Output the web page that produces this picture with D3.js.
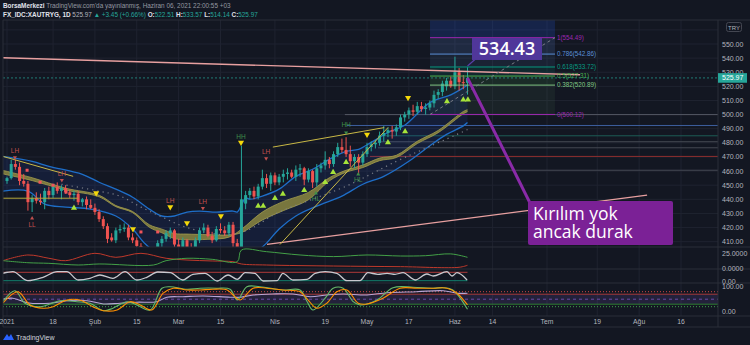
<!DOCTYPE html>
<html><head><meta charset="utf-8">
<script src="https://cdn.jsdelivr.net/npm/d3@7"></script>
<style>html,body{margin:0;padding:0;background:#131722;}svg{display:block}</style>
</head><body><svg id="c" width="750" height="345"></svg>
<script>
// ---------- DATA ----------
const opens  = [453,455,465,463,453,451,438,441,439,438,446,443,449,446,448,445,443,444,438,440,436,434,431,426,421,413,411,418,419,420,413,411,407,402,398,402,403,409,412,416,418,408,405,411,406,404,411,418,420,414,411,419,418,416,422,409,406,437,443,446,442,449,455,451,457,452,456,458,459,456,461,462,454,460,452,462,464,468,465,472,477,475,472,467,470,466,472,477,479,480,485,487,489,488,491,498,500,503,502,506,504,505,508,514,516,520,524,520,530,523,522.51];
const highs  = [456,468,468,466,458,453,443,445,444,448,449,451,452,450,450,447,446,446,441,442,440,437,433,428,423,416,420,422,423,422,416,413,409,404,404,405,411,414,418,420,419,412,413,412,409,413,420,423,422,417,421,423,421,424,424,412,478,446,448,449,451,461,458,459,459,458,461,462,461,464,465,463,462,461,465,466,474,470,474,480,483,484,478,472,472,474,480,481,482,488,492,491,492,493,500,502,505,507,509,509,508,510,517,518,524,526,527,541,533,528,533.57];
const lows   = [451,454,461,450,449,432,431,437,436,433,440,441,444,440,444,441,439,436,435,433,433,429,424,419,409,410,409,416,417,411,409,404,400,396,396,399,402,405,410,412,405,403,404,403,402,403,409,416,413,409,410,416,414,414,406,404,405,433,440,440,440,447,448,446,450,450,452,454,455,453,456,450,452,448,449,459,461,462,463,470,473,470,463,462,458,464,470,474,476,478,481,484,483,485,489,495,497,499,500,502,500,503,505,511,513,517,519,518,517,518,514.14];
const closes = [455,465,463,453,451,438,441,439,438,446,443,449,446,448,445,443,444,438,440,436,434,431,426,421,412,411,418,419,420,413,411,407,402,398,402,403,409,412,416,418,408,405,411,406,404,411,418,420,414,411,419,418,416,422,409,406,440,443,446,442,449,455,451,457,452,456,458,459,456,461,462,454,460,452,462,464,468,465,472,477,475,472,467,470,466,472,477,479,480,485,487,489,488,491,498,500,503,502,506,504,505,508,514,516,522,524,520,530,523,522.5,525.97];

const tickBars   = [0,11,21,31,41,51,64,76,86,96,107,116,129,141,151,161];
const tickLabels = ["2021","18","Şub","15","Mar","15","Nis","19","May","17","Haz","14","Tem","19","Ağu","16"];
const priceTicks = [410,420,430,440,450,460,470,480,490,500,510,520,530,540,550,560];

// overlays [barIndex, price]
const bandUpper = [[-1,470.4],[6,466.9],[10,463.4],[18,457.7],[22,452.1],[26,447.2],[30,441.5],[34,433.1],[37,428.2],[40,428.2],[43,431],[46,431.7],[50,431],[54,431.7],[55,431],[56,436],[57,441],[58,440.1],[61,442.3],[65,447.2],[69,456.3],[73,461.3],[77,468.3],[81,474],[84,475.4],[87,480.3],[91,487.3],[95,492.5],[101,508.5],[106,514],[109,519],[110,521]];
const bandLower = [[-1,445.8],[5,445.8],[9,436.6],[14,434.5],[20,433.1],[26,428.2],[30,419],[33,408.5],[36,402],[42,397],[50,396],[56,398],[60,404],[62,409],[65,419],[69,428.2],[74,435.2],[80,442.3],[85,450.7],[90,456.3],[96,467],[101,478],[105,486],[109,492],[110,494.4]];
const ribbonFast = [[-1,458],[6,453.3],[14,446.6],[22,441.8],[26,434.8],[30,430.6],[34,420.2],[37,416.3],[40,412.2],[43,411.4],[48,411.7],[53,413.2],[56,418.8],[61,431],[66,438.5],[72,444.9],[77,455.3],[81,460.6],[85,464.3],[89,469.2],[93,471.2],[98,481.1],[103,488.8],[109,502.2],[110,503.5]];
const ribbonSlow = [[-1,460.5],[6,455.3],[14,447.9],[22,442.9],[26,435.6],[30,431.4],[34,422],[37,418.9],[40,415.8],[43,415.4],[48,415],[53,414.8],[56,416.4],[61,425.4],[66,432],[72,439.7],[77,453.1],[81,459.2],[85,462.5],[89,467.4],[93,469.6],[98,479.5],[103,487.2],[109,500.6],[110,502.1]];
const dotMA = [[13,450.7],[22,445.8],[27,442.3],[32,434.5],[37,427.5],[42,421],[47,417],[52,415],[57,417.6],[65,431],[73,440.1],[81,449.3],[93,466.9],[101,477.5],[109,488],[110,489.5]];

// drawn trend lines [[i0,p0],[i1,p1]]
const trendLines = [
  {pts:[[-0.96,540.3],[136.9,528.2]], color:"#e8a0a0", w:1.4},
  {pts:[[62.1,408.1],[152.9,443]], color:"#e8a0a0", w:1.2},
  {pts:[[-0.96,470.4],[15.8,456.3]], color:"#c8b845", w:1},
  {pts:[[-0.96,440.8],[17,440.8]], color:"#b4a83c", w:1},
  {pts:[[63.5,477],[90.1,490.8]], color:"#c8b845", w:1},
  {pts:[[65.2,408],[91,490.8]], color:"#c8b845", w:1}
];
// horizontal levels extending to the right
const hLevels = [500, 492.3, 485, 480.8, 476.5, 470.4, 460.6];
const hStart  = [80.7, 81.2, 88.6, 88.6, 88.6, 86.7, 88.6];
const hColors = ["#545864","#3d5f9e","#1d5c55","#454953","#454953","#8e2f2f","#454953"];

// fibonacci
const fibRatios = [0,0.382,0.5,0.618,0.786,1,1.618];
const fibPrices = [500.12,520.89,527.31,533.72,542.86,554.49,588.09];
const fibColors = ["#9c27b0","#81c784","#4caf50","#089981","#5b8fd6","#9c27b0","#2962ff"];
const fibFills  = ["rgba(129,199,132,0.07)","rgba(76,175,80,0.13)","rgba(8,153,129,0.13)","rgba(91,143,214,0.10)","rgba(100,140,230,0.16)","rgba(41,98,255,0.18)"];
const fibRange = [101.05, 130.9];

// markers
const pivots = [
  {i:1.9,p:474,t:"LH",c:"#c2504f",mk:469.7,up:false},
  {i:6,p:421.8,t:"LL",c:"#c2504f",mk:426.5,up:true},
  {i:13.1,p:457.7,t:"LH",c:"#c2504f",mk:453.5,up:false},
  {i:39,p:438.7,t:"LH",c:"#c2504f",mk:null,up:false},
  {i:46.8,p:438,t:"LH",c:"#c2504f",mk:433.8,up:false},
  {i:55.9,p:483.8,t:"HH",c:"#3f8f4a",mk:null,up:false},
  {i:61.9,p:473.2,t:"LH",c:"#c2504f",mk:469,up:false},
  {i:81,p:492.3,t:"HH",c:"#3f8f4a",mk:487.3,up:false},
  {i:73.8,p:440.1,t:"HL",c:"#3f8f4a",mk:444.3,up:true},
  {i:83.9,p:453.5,t:"HL",c:"#3f8f4a",mk:457.7,up:true}
];
const yellowDown = [[21.3,444.4],[30.1,419],[39,434.5],[43,423.2],[51.1,428.2],[55.9,480.3],[86,485.9],[95.8,512]];
const greenUp = [[16,433.8],[60,435.2],[61.2,435.2],[64,440.8],[65.9,443.7],[71,446.5],[76,452.1],[77.9,459.2],[81,466.2],[91,480.3],[95.1,488],[105.1,509.2],[109,510.6],[110.1,510.6]];
const redDots = [[4.8,460.6],[7.9,452.1],[11,450],[14.1,445.1],[32,416.9],[36,416.9]];

// pane 2 (DMI-like)
const dmiRed = [[-1,12.7],[5,22.2],[10,16.7],[14,12.7],[21,25],[26,18.3],[32,25],[38,16.7],[43,13.8],[49,12.2],[54,11],[56,7.2],[62,5.5],[78,3.8],[94,2.7],[108,1.7],[110,5]];
const dmiGreen = [[-1,12.7],[5,9.3],[10,8.3],[17,5.5],[22,7.2],[35,5.5],[38,12.7],[43,16.7],[49,15],[55,11],[56,30.5],[62,27.7],[70,22.2],[78,19.5],[86,22.2],[94,20.5],[100,21],[106,24],[110,18.3]];
// pane 3 oscillator
const osc = [[-1,77],[1.4,93],[5,3],[8.6,37],[12,93],[14.3,93],[17,10],[19.8,27],[22.2,60],[25.3,27],[28.2,93],[31,10],[33.4,37],[36,90],[39,83],[42,10],[44.4,67],[47.3,77],[50.2,0],[52.8,60],[55,17],[56.9,83],[59.2,77],[61.2,0],[64.5,3],[65.9,77],[68.3,10],[71.7,17],[73.6,77],[76,93],[78.8,77],[81.2,3],[84.3,3],[86.2,83],[88.6,67],[90.8,77],[92.7,67],[94.6,83],[97.5,10],[100.3,70],[101.8,50],[105.1,93],[106.3,50],[107.5,83],[109.9,10]];
// pane 4 stoch RSI
const stochK = [[-1,40],[1.9,84],[4.3,34],[7.9,20],[12.7,44],[16.7,40],[19.8,34],[23,4],[25.3,14],[28.7,40],[31,27],[34.2,7],[37,94],[39,100],[43,90],[46.1,94],[50.2,94],[53.3,90],[55,47],[57.3,100],[60.4,100],[65.9,87],[70,87],[71.7,40],[73.1,7],[76,54],[77.9,94],[80.3,94],[82.7,40],[84.3,27],[88.4,47],[92.2,96],[97,98],[101.8,94],[104.2,96],[106.5,87],[110,10]];
const stochD = [[-1,34],[2.6,80],[5.5,27],[8.6,14],[11,20],[14.3,47],[17.4,47],[20.5,20],[23,4],[26.3,7],[29.4,40],[31.8,27],[34.6,7],[37.3,74],[39.7,94],[43,87],[46.1,87],[49.2,90],[52.6,87],[54,67],[55.7,47],[58.8,94],[62.1,94],[65.9,87],[70,80],[71.9,47],[74,14],[76.4,34],[78.8,80],[81.2,87],[83.9,34],[86,31],[89.8,54],[93.9,94],[97.9,94],[101.8,94],[105.1,94],[107.5,74],[110,27]];
const rsi = [[-1,50],[1.4,54],[4.8,36],[10.3,34],[14.3,44],[19.1,44],[23,31],[27,34],[31,38],[35.8,40],[38.2,58],[42,60],[46.8,63],[53.3,58],[55.7,58],[58.8,67],[63.5,71],[68.3,71],[72.4,60],[76.4,67],[80.3,71],[86,67],[90.8,76],[97.9,80],[104.2,84],[107.5,74],[110,74]];

// ---------- SCALES ----------
const svg = d3.select("#c");
const X0 = 3, X1 = 718;
const x  = d3.scaleLinear().domain([0,161]).range([7,681]);
const yP = d3.scaleLinear().domain([410,550]).range([241.7,44]);
const y2 = d3.scaleLinear().domain([0,25]).range([268.3,253.3]);
const y3 = d3.scaleLinear().domain([0,100]).range([281,271]);
const y4 = d3.scaleLinear().domain([0,100]).range([311.7,286.7]);
const panes = {main:[20,247], p2:[247,269], p3:[269,283], p4:[283,315]};
const FONT = "'Liberation Sans', Arial, sans-serif";

svg.append("rect").attr("width",750).attr("height",345).attr("fill","#131722");
const defs = svg.append("defs");
Object.entries(panes).forEach(([k,[a,b]])=>{
  defs.append("clipPath").attr("id","clip-"+k).append("rect").attr("x",X0).attr("y",a).attr("width",X1-X0).attr("height",b-a);
});

// grid
const grid = svg.append("g");
tickBars.forEach(b=>grid.append("line").attr("x1",x(b)).attr("x2",x(b)).attr("y1",20).attr("y2",316).attr("stroke","#1f2330").attr("stroke-width",1));
priceTicks.forEach(p=>grid.append("line").attr("x1",X0).attr("x2",X1).attr("y1",yP(p)).attr("y2",yP(p)).attr("stroke","#1f2330"));

const mkLine = (ys)=>d3.line().x(d=>x(d[0])).y(d=>ys(d[1])).curve(d3.curveCatmullRom.alpha(0.5));
const lineP = mkLine(yP);

// ---------- MAIN PANE ----------
const gm = svg.append("g").attr("clip-path","url(#clip-main)");

hLevels.forEach((p,k)=>gm.append("line").attr("x1",x(hStart[k])).attr("x2",X1).attr("y1",yP(p)).attr("y2",yP(p)).attr("stroke",hColors[k]).attr("stroke-width",1));

for(let k=0;k<fibPrices.length-1;k++){
  gm.append("rect").attr("x",x(fibRange[0])).attr("width",x(fibRange[1])-x(fibRange[0]))
    .attr("y",yP(fibPrices[k+1])).attr("height",yP(fibPrices[k])-yP(fibPrices[k+1])).attr("fill",fibFills[k]);
}

const areaPath = lineP(bandUpper) + lineP(bandLower.slice().reverse()).replace(/^M/,"L") + "Z";
gm.append("path").attr("d",areaPath).attr("fill","rgba(41,98,255,0.10)");
gm.append("path").attr("d",lineP(bandUpper)).attr("fill","none").attr("stroke","#1e6ec8").attr("stroke-width",1.3);
gm.append("path").attr("d",lineP(bandLower)).attr("fill","none").attr("stroke","#1e6ec8").attr("stroke-width",1.3);

const ribPath = lineP(ribbonFast) + lineP(ribbonSlow.slice().reverse()).replace(/^M/,"L") + "Z";
gm.append("path").attr("d",ribPath).attr("fill","#8a8640").attr("opacity",0.85);
gm.append("path").attr("d",lineP(ribbonFast)).attr("fill","none").attr("stroke","#a39d4c").attr("stroke-width",0.8);
gm.append("path").attr("d",lineP(ribbonSlow)).attr("fill","none").attr("stroke","#a39d4c").attr("stroke-width",0.8);

gm.append("path").attr("d",lineP(dotMA)).attr("fill","none").attr("stroke","#7d808a").attr("stroke-width",1.2).attr("stroke-dasharray","1.2,4");

const cg = gm.append("g");
closes.forEach((c,i)=>{
  const o=opens[i], up=c>=o, col=up?"#26a69a":"#ef5350", cx=x(i);
  cg.append("line").attr("x1",cx).attr("x2",cx).attr("y1",yP(highs[i])).attr("y2",yP(lows[i])).attr("stroke",col).attr("stroke-width",1);
  const top=yP(Math.max(o,c)), bot=yP(Math.min(o,c));
  cg.append("rect").attr("x",cx-1.5).attr("width",3).attr("y",top).attr("height",Math.max(1,bot-top)).attr("fill",col);
});

trendLines.forEach(t=>gm.append("path").attr("d",d3.line().x(d=>x(d[0])).y(d=>yP(d[1]))(t.pts)).attr("stroke",t.color).attr("stroke-width",t.w).attr("fill","none"));

const tri = d3.symbol().type(d3.symbolTriangle).size(16);
yellowDown.forEach(d=>gm.append("path").attr("d",tri()).attr("transform",`translate(${x(d[0])},${yP(d[1])}) rotate(180)`).attr("fill","#f5d90a"));
greenUp.forEach(d=>gm.append("path").attr("d",tri()).attr("transform",`translate(${x(d[0])},${yP(d[1])})`).attr("fill","#a6e33a"));
redDots.forEach(d=>gm.append("rect").attr("x",x(d[0])-1.5).attr("y",yP(d[1])-1.5).attr("width",3).attr("height",3).attr("fill","#f0545a"));
pivots.forEach(d=>{
  gm.append("text").attr("x",x(d.i)).attr("y",yP(d.p)+2).attr("text-anchor","middle").attr("font-family",FONT).attr("font-size",6.5).attr("fill",d.c).text(d.t);
  if(d.mk!==null){
    const s=d3.symbol().type(d3.symbolTriangle).size(7);
    gm.append("path").attr("d",s()).attr("transform",`translate(${x(d.i)},${yP(d.mk)}) rotate(${d.up?0:180})`).attr("fill",d.c);
  }
});

fibPrices.forEach((p,k)=>{
  gm.append("line").attr("x1",x(fibRange[0])).attr("x2",x(fibRange[1])).attr("y1",yP(p)).attr("y2",yP(p)).attr("stroke",fibColors[k]).attr("stroke-width",1);
  if(yP(p) > 24){
    gm.append("text").attr("x",x(fibRange[1])+2).attr("y",yP(p)+2.2).attr("font-family",FONT).attr("font-size",6.3).attr("fill",fibColors[k])
      .text(`${fibRatios[k]}(${p.toFixed(2)})`);
  }
});
gm.append("line").attr("x1",x(fibRange[0])).attr("y1",yP(fibPrices[0])).attr("x2",x(fibRange[1])).attr("y2",yP(fibPrices[5]))
  .attr("stroke","#787b86").attr("stroke-width",1).attr("stroke-dasharray","3,3");

const last = closes[closes.length-1];
svg.append("line").attr("x1",X0).attr("x2",X1).attr("y1",yP(last)).attr("y2",yP(last)).attr("stroke","#26a69a").attr("stroke-opacity",0.7).attr("stroke-dasharray","2,2");

// ---------- PANE 2 ----------
const g2 = svg.append("g").attr("clip-path","url(#clip-p2)");
g2.append("path").attr("d",mkLine(y2)(dmiRed)).attr("fill","none").attr("stroke","#c0392b").attr("stroke-width",1);
g2.append("path").attr("d",mkLine(y2)(dmiGreen)).attr("fill","none").attr("stroke","#43a047").attr("stroke-width",1);

// ---------- PANE 3 ----------
const g3 = svg.append("g").attr("clip-path","url(#clip-p3)");
g3.append("line").attr("x1",X0).attr("x2",x(110)).attr("y1",y3(87)).attr("y2",y3(87)).attr("stroke","#b03a3a");
g3.append("line").attr("x1",X0).attr("x2",x(110)).attr("y1",y3(3)).attr("y2",y3(3)).attr("stroke","#12806e");
g3.append("path").attr("d",mkLine(y3).curve(d3.curveMonotoneX)(osc)).attr("fill","none").attr("stroke","#c8c9cf").attr("stroke-width",1.3);

// ---------- PANE 4 ----------
const g4 = svg.append("g").attr("clip-path","url(#clip-p4)");
g4.append("rect").attr("x",X0).attr("width",X1-X0).attr("y",y4(70)).attr("height",y4(30)-y4(70)).attr("fill","rgba(126,87,194,0.16)");
g4.append("line").attr("x1",X0).attr("x2",X1).attr("y1",y4(80)).attr("y2",y4(80)).attr("stroke","#d04545").attr("stroke-dasharray","1,2");
g4.append("line").attr("x1",X0).attr("x2",X1).attr("y1",y4(70)).attr("y2",y4(70)).attr("stroke","#a53a3a");
g4.append("line").attr("x1",X0).attr("x2",X1).attr("y1",y4(50)).attr("y2",y4(50)).attr("stroke","#7e57c2").attr("stroke-dasharray","3,3").attr("stroke-opacity",0.8);
g4.append("line").attr("x1",X0).attr("x2",X1).attr("y1",y4(30)).attr("y2",y4(30)).attr("stroke","#2e7d32");
g4.append("line").attr("x1",X0).attr("x2",X1).attr("y1",y4(20)).attr("y2",y4(20)).attr("stroke","#3fa04a").attr("stroke-dasharray","1,2");
g4.append("path").attr("d",mkLine(y4)(rsi)).attr("fill","none").attr("stroke","#b9a6d6").attr("stroke-width",1.1);
g4.append("path").attr("d",mkLine(y4)(stochK)).attr("fill","none").attr("stroke","#66bb6a").attr("stroke-width",1.1);
g4.append("path").attr("d",mkLine(y4)(stochD)).attr("fill","none").attr("stroke","#ff8f00").attr("stroke-width",1.1);

// ---------- BORDERS ----------
[247,269,283,316,327].forEach(yv=>svg.append("line").attr("x1",X0).attr("x2",750).attr("y1",yv).attr("y2",yv).attr("stroke","#2a2e39"));
svg.append("line").attr("x1",X1).attr("x2",X1).attr("y1",20).attr("y2",327).attr("stroke","#2a2e39");
svg.append("line").attr("x1",X0).attr("x2",X0).attr("y1",20).attr("y2",327).attr("stroke","#2a2e39");
svg.append("line").attr("x1",X0).attr("x2",750).attr("y1",20).attr("y2",20).attr("stroke","#2a2e39");

// ---------- AXES ----------
const axisText = (xx,yy,t)=>svg.append("text").attr("x",xx).attr("y",yy).attr("font-family",FONT).attr("font-size",7).attr("fill","#b2b5be").text(t);
priceTicks.filter(p=>p<560).forEach(p=>axisText(722,yP(p)+2.5,p.toFixed(2)));
axisText(722,y2(25)+2.5,"25.0000");
axisText(722,y2(0)+2.5,"0.0000");
axisText(722,y3(0)+2.5,"0.00");
axisText(722,y4(100)+2.5,"100.00");
axisText(722,y4(0)+2.5,"0.00");
// TRY badge (covers the 560 tick)
svg.append("rect").attr("x",726.5).attr("y",22.5).attr("width",15).attr("height",9).attr("rx",2).attr("fill","#131722").attr("stroke","#434651");
svg.append("text").attr("x",734).attr("y",29.5).attr("text-anchor","middle").attr("font-family",FONT).attr("font-size",6).attr("fill","#b2b5be").text("TRY");
// last price tag
svg.append("rect").attr("x",X1).attr("y",yP(last)-4.8).attr("width",29).attr("height",9.6).attr("fill","#26a69a");
svg.append("text").attr("x",722).attr("y",yP(last)+2.5).attr("font-family",FONT).attr("font-size",7).attr("fill","#ffffff").text(last.toFixed(2));

tickBars.forEach((b,k)=>svg.append("text").attr("x",x(b)).attr("y",324).attr("text-anchor","middle").attr("font-family",FONT).attr("font-size",6.8).attr("fill","#b2b5be").text(tickLabels[k]));

// ---------- CALLOUTS ----------
const ax = x(110), ay = yP(534.43);
svg.append("line").attr("x1",ax).attr("y1",ay).attr("x2",ax+8).attr("y2",ay-7).attr("stroke","#5a3ea8").attr("stroke-width",1.2);
svg.append("rect").attr("x",ax+4.5).attr("y",ay-28).attr("width",70).attr("height",22).attr("fill","#50379a");
svg.append("text").attr("x",ax+39.5).attr("y",ay-10.5).attr("text-anchor","middle").attr("font-family","'Open Sans', 'Liberation Sans', sans-serif").attr("font-weight",600).attr("font-size",18).attr("fill","#ffffff").text("534.43");

const bx = x(110), by = yP(526);
svg.append("line").attr("x1",bx).attr("y1",by).attr("x2",530).attr("y2",203).attr("stroke","#8a2aa8").attr("stroke-width",3);
svg.append("rect").attr("x",528).attr("y",201).attr("width",145).attr("height",44).attr("rx",2).attr("fill","#7b2196");
const ct = svg.append("text").attr("font-family","'Open Sans', 'Liberation Sans', sans-serif").attr("font-size",17.5).attr("fill","#ffffff");
ct.append("tspan").attr("x",533).attr("y",219.5).text("Kırılım yok");
ct.append("tspan").attr("x",533).attr("y",238).text("ancak durak");

// ---------- HEADER ----------
const h1 = svg.append("text").attr("x",3).attr("y",8).attr("font-family",FONT).attr("font-size",6.4).attr("fill","#9598a1");
h1.append("tspan").attr("font-weight","bold").attr("fill","#e0e3eb").text("BorsaMerkezi");
h1.append("tspan").text(" TradingView.com'da yayınlanmış, Haziran 06, 2021 22:00:55 +03");
const h2 = svg.append("text").attr("x",3).attr("y",16.5).attr("font-family",FONT).attr("font-size",6.4).attr("fill","#d1d4dc");
h2.append("tspan").attr("font-weight","bold").attr("fill","#e0e3eb").text("FX_IDC:XAUTRYG, 1D ");
h2.append("tspan").attr("fill","#b2b5be").text("525.97 ");
h2.append("tspan").attr("fill","#26a69a").text("▲ +3.45 (+0.66%) ");
[["O:","522.51"],["H:","533.57"],["L:","514.14"],["C:","525.97"]].forEach(([a,b])=>{
  h2.append("tspan").attr("font-weight","bold").attr("fill","#e0e3eb").text(a);
  h2.append("tspan").attr("fill","#26a69a").text(b+" ");
});

// ---------- LOGO ----------
const lg = svg.append("g").attr("transform","translate(3,333)");
lg.append("path").attr("d","M0,7 L4,1 L6,4 L8,1 L11,7 Z").attr("fill","#2962ff");
svg.append("text").attr("x",16).attr("y",340).attr("font-family",FONT).attr("font-size",7).attr("fill","#d1d4dc").text("TradingView");
</script></body></html>
